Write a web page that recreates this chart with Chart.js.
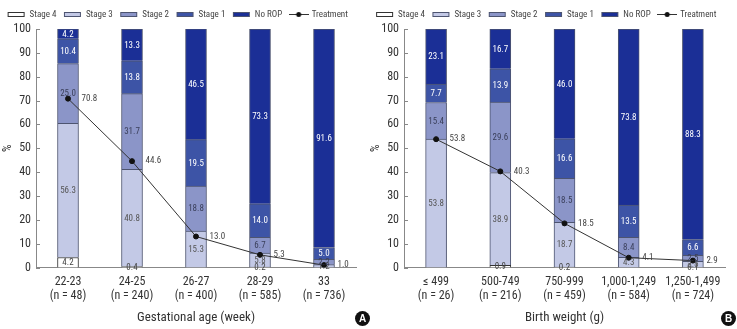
<!DOCTYPE html>
<html>
<head>
<meta charset="utf-8">
<script src="https://cdn.jsdelivr.net/npm/chart.js@4.4.0/dist/chart.umd.min.js"></script>
<style>
  html, body { margin: 0; padding: 0; background: #fff; }
  #wrap { position: relative; width: 737px; height: 329px; overflow: hidden; }
  .panel { position: absolute; top: 0; height: 329px; }
  .badge { position: absolute; width: 15px; height: 15px; border-radius: 50%; background: #111; color: #fff;
           font: bold 10px 'Liberation Sans', Arial, sans-serif; text-align: center; line-height: 15px; }
</style>
</head>
<body>
<div id="wrap">
  <div class="panel" style="left:0;width:368px"><canvas id="cA" width="368" height="329"></canvas></div>
  <div class="panel" style="left:368px;width:369px"><canvas id="cB" width="369" height="329"></canvas></div>
  <div class="badge" style="left:355px;top:311px">A</div>
  <div class="badge" style="left:721px;top:311px">B</div>
</div>
<script>
// ---------- Panel A: gestational age ----------
const gaCategories = [['22-23', '(n = 48)'], ['24-25', '(n = 240)'], ['26-27', '(n = 400)'], ['28-29', '(n = 585)'], ['33', '(n = 736)']];
const gaStage4 = [4.2, 0.4, 0, 0.2, 0];
const gaStage3 = [56.3, 40.8, 15.3, 5.8, 1.2];
const gaStage2 = [25.0, 31.7, 18.8, 6.7, 2.2];
const gaStage1 = [10.4, 13.8, 19.5, 14.0, 5.0];
const gaNoROP = [4.2, 13.3, 46.5, 73.3, 91.6];
const gaTreatment = [70.8, 44.6, 13.0, 5.3, 1.0];

// ---------- Panel B: birth weight ----------
const bwCategories = [['\u2264 499', '(n = 26)'], ['500-749', '(n = 216)'], ['750-999', '(n = 459)'], ['1,000-1,249', '(n = 584)'], ['1,250-1,499', '(n = 724)']];
const bwStage4 = [0, 0.9, 0.2, 0, 0.1];
const bwStage3 = [53.8, 38.9, 18.7, 4.3, 2.5];
const bwStage2 = [15.4, 29.6, 18.5, 8.4, 2.5];
const bwStage1 = [7.7, 13.9, 16.6, 13.5, 6.6];
const bwNoROP = [23.1, 16.7, 46.0, 73.8, 88.3];
const bwTreatment = [53.8, 40.3, 18.5, 4.1, 2.9];

const yTicks = [0, 10, 20, 30, 40, 50, 60, 70, 80, 90, 100];

const FONT = "'Liberation Sans Narrow', 'Roboto Condensed', 'DejaVu Sans Condensed', sans-serif";
Chart.defaults.font.family = FONT;
Chart.defaults.color = '#333';

const COLORS = {
  s4: '#ffffff', s3: '#c3c9e6', s2: '#8b95c8', s1: '#3d54a6', no: '#1b2f96'
};
const BORDER = '#4d5470';

function legendIcon(fill, stroke, isLine) {
  const c = document.createElement('canvas');
  c.width = 20; c.height = 7;
  const x = c.getContext('2d');
  if (isLine) {
    x.strokeStyle = '#333'; x.lineWidth = 1;
    x.beginPath(); x.moveTo(0, 3.5); x.lineTo(20, 3.5); x.stroke();
    x.fillStyle = '#111'; x.beginPath(); x.arc(10, 3.5, 2.5, 0, Math.PI * 2); x.fill();
  } else {
    x.fillStyle = fill; x.fillRect(1.5, 1.5, 16, 4);
    x.strokeStyle = stroke; x.lineWidth = 1; x.strokeRect(1.5, 1.5, 16, 4);
  }
  return c;
}

const valueLabels = {
  id: 'valueLabels',
  afterDatasetsDraw(chart) {
    const ctx = chart.ctx;
    ctx.save();
    ctx.font = '9px ' + FONT;
    ctx.textBaseline = 'middle';
    ctx.textAlign = 'center';
    chart.data.datasets.forEach((ds, i) => {
      if (ds.type === 'line') return;
      const meta = chart.getDatasetMeta(i);
      meta.data.forEach((el, j) => {
        const v = ds.data[j];
        if (!v) return;
        ctx.fillStyle = ds.labelColor;
        ctx.fillText(v.toFixed(1), el.x, (el.y + el.base) / 2 + 0.5);
      });
    });
    const li = chart.data.datasets.findIndex(d => d.type === 'line');
    const lm = chart.getDatasetMeta(li);
    const bm = chart.getDatasetMeta(0);
    const tdata = chart.data.datasets[li].data;
    ctx.textAlign = 'left';
    ctx.fillStyle = '#444';
    lm.data.forEach((p, j) => {
      const bar = bm.data[j];
      ctx.fillText(tdata[j].toFixed(1), bar.x + bar.width / 2 + 3, p.y);
    });
    ctx.restore();
  },
  afterDraw(chart) {
    const ctx = chart.ctx, y = chart.scales.y, left = chart.chartArea.left;
    ctx.save();
    ctx.strokeStyle = '#888'; ctx.lineWidth = 1;
    y.ticks.forEach(t => {
      const py = Math.round(y.getPixelForValue(t.value)) + 0.5;
      ctx.beginPath(); ctx.moveTo(left, py); ctx.lineTo(left + 4, py); ctx.stroke();
    });
    ctx.restore();
  }
};

function makeChart(id, cats, s4, s3, s2, s1, no, treat, xTitle) {
  const bar = (label, data, color, labelColor, border) => ({
    type: 'bar', label, data, backgroundColor: color, borderColor: border || BORDER,
    borderWidth: 1, barThickness: 21, stack: 'rop', order: 1, labelColor
  });
  return new Chart(document.getElementById(id), {
    data: {
      labels: cats,
      datasets: [
        bar('Stage 4', s4, COLORS.s4, '#444', '#333'),
        bar('Stage 3', s3, COLORS.s3, '#555'),
        bar('Stage 2', s2, COLORS.s2, '#3a3f5a'),
        bar('Stage 1', s1, COLORS.s1, '#ffffff'),
        bar('No ROP', no, COLORS.no, '#ffffff'),
        { type: 'line', label: 'Treatment', data: treat, borderColor: '#333', borderWidth: 1,
          pointRadius: 2.5, pointBackgroundColor: '#111', pointBorderColor: '#111',
          stack: 'treat', order: 0, tension: 0 }
      ]
    },
    options: {
      responsive: false, animation: false,
      layout: { padding: { top: 2, left: 0, right: 12, bottom: 0 } },
      plugins: {
        tooltip: { enabled: false },
        legend: {
          position: 'top',
          labels: {
            usePointStyle: true, pointStyleWidth: 17, padding: 8,
            font: { size: 9 }, color: '#444',
            generateLabels(chart) {
              const icons = [
                legendIcon(COLORS.s4, '#333'), legendIcon(COLORS.s3, BORDER),
                legendIcon(COLORS.s2, BORDER), legendIcon(COLORS.s1, BORDER),
                legendIcon(COLORS.no, BORDER), legendIcon(null, null, true)
              ];
              return chart.data.datasets.map((d, i) => ({
                text: d.label, pointStyle: icons[i], fillStyle: 'transparent',
                strokeStyle: 'transparent', lineWidth: 0, hidden: false, datasetIndex: i, fontColor: '#444'
              }));
            }
          }
        }
      },
      scales: {
        x: {
          stacked: true,
          grid: { display: false, drawTicks: false },
          border: { display: true, color: '#888' },
          ticks: { font: { size: 12 }, color: '#333', padding: 7, maxRotation: 0, autoSkip: false },
          title: { display: true, text: xTitle, font: { size: 13 }, color: '#333', padding: { top: 4, bottom: 3 } },
          afterFit(s) { s.height = 61.5; }
        },
        y: {
          stacked: true, min: 0, max: 100,
          grid: { display: false, drawTicks: false },
          border: { display: true, color: '#888' },
          afterBuildTicks(s) { s.ticks = yTicks.map(v => ({ value: v })); },
          ticks: { font: { size: 12 }, color: '#333', padding: 5 },
          title: { display: true, text: '%', font: { size: 12 }, color: '#333', padding: { top: 1, bottom: 0 } },
          afterFit(s) { s.width = 36; }
        }
      }
    },
    plugins: [valueLabels]
  });
}

makeChart('cA', gaCategories, gaStage4, gaStage3, gaStage2, gaStage1, gaNoROP, gaTreatment, 'Gestational age (week)');
makeChart('cB', bwCategories, bwStage4, bwStage3, bwStage2, bwStage1, bwNoROP, bwTreatment, 'Birth weight (g)');
</script>
</body>
</html>
